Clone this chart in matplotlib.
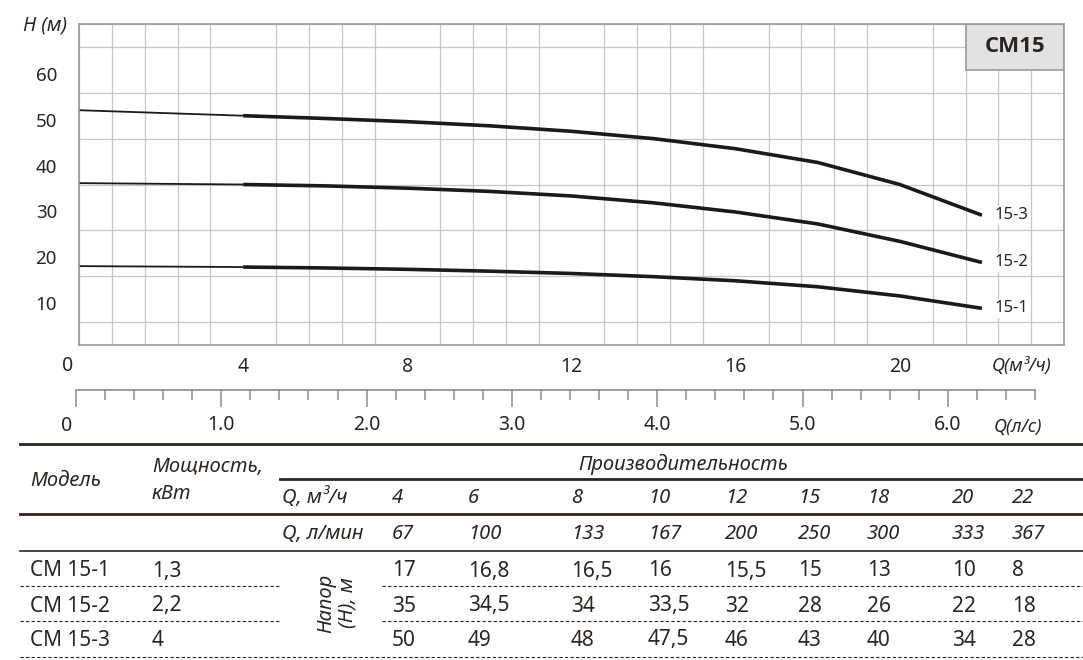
import numpy as np
import matplotlib
matplotlib.use("Agg")
from matplotlib import pyplot as plt
from matplotlib.lines import Line2D
from matplotlib.patches import Rectangle

plt.rcParams['font.family'] = ['Noto Sans', 'DejaVu Sans']

# ---- table data ----
q_m3h = [4, 6, 8, 10, 12, 15, 18, 20, 22]
q_lmin = [67, 100, 133, 167, 200, 250, 300, 333, 367]
models = ['CM 15-1', 'CM 15-2', 'CM 15-3']
curve_names = ['15-1', '15-2', '15-3']
power_kw = ['1,3', '2,2', '4']
head_15_1 = [17, 16.8, 16.5, 16, 15.5, 15, 13, 10, 8]
head_15_2 = [35, 34.5, 34, 33.5, 32, 28, 26, 22, 18]
head_15_3 = [50, 49, 48, 47.5, 46, 43, 40, 34, 28]
heads = [head_15_1, head_15_2, head_15_3]

# ---- curves as drawn on the chart ----
curve_q = [0, 2, 4, 6, 8, 10, 12, 14, 16, 18, 20, 22]
curve_15_1 = [17.2, 17.1, 17.0, 16.8, 16.5, 16.1, 15.6, 14.9, 14.0, 12.7, 10.7, 8.0]
curve_15_2 = [35.3, 35.15, 35.0, 34.7, 34.2, 33.5, 32.5, 31.0, 29.0, 26.4, 22.6, 18.0]
curve_15_3 = [51.2, 50.6, 50.0, 49.4, 48.7, 47.8, 46.6, 45.0, 42.8, 39.8, 35.0, 28.3]
curves = [curve_15_1, curve_15_2, curve_15_3]

x_ticks = [0, 4, 8, 12, 16, 20]
y_ticks = [10, 20, 30, 40, 50, 60]
ls_ticks = [0, 1, 2, 3, 4, 5, 6]

TXT = '#2b2522'
LINE = '#2e241e'
W, H = 1083, 660


def fx(px):
    return px / W


def fy(py):
    return 1 - py / H


def fmt(v):
    return str(v).replace('.', ',')


fig = plt.figure(figsize=(W / 100, H / 100), dpi=100)

# ---- main chart ----
ax = fig.add_axes([fx(79), fy(345), fx(1064) - fx(79), fy(24) - fy(345)])
ax.set_xlim(0, 24)
ax.set_ylim(0, 70)
ax.set_xticks(np.arange(0, 24.01, 0.8), minor=True)
ax.set_yticks(np.arange(0, 70.01, 5), minor=True)
ax.grid(which='minor', color='#c6c6c6', lw=0.9)
ax.set_axisbelow(True)
ax.set_xticks(x_ticks[1:])
ax.set_xticklabels([str(v) for v in x_ticks[1:]], fontsize=14, color=TXT)
ax.set_yticks(y_ticks)
ax.set_yticklabels([])
ax.tick_params(which='both', length=0)
ax.tick_params(axis='x', pad=9)
for s in ax.spines.values():
    s.set_color('#9a9a9a')
    s.set_linewidth(1.2)
ax.annotate(str(x_ticks[0]), (0, 0), xytext=(-11, -21), textcoords='offset pixels',
            ha='center', va='center', fontsize=14, color=TXT, annotation_clip=False)
# y labels sit a little below their grid lines in the original
for v in y_ticks:
    ax.annotate(str(v), (0, v), xytext=(-22, -4), textcoords='offset pixels',
                ha='right', va='center_baseline', fontsize=13.5, color=TXT, annotation_clip=False)

for name, cq, ch in zip(curve_names, [curve_q] * 3, curves):
    cq = np.array(cq)
    ch = np.array(ch)
    ax.plot(cq[cq <= 4], ch[cq <= 4], color='#1a1a1a', lw=1.3, solid_capstyle='butt')
    ax.plot(cq[cq >= 4], ch[cq >= 4], color='#1a1a1a', lw=2.6,
            solid_joinstyle='round', solid_capstyle='butt')
    ax.text(cq[-1] + 0.3, ch[-1], name, fontsize=12, color=TXT, va='center', ha='left',
            bbox=dict(facecolor='white', edgecolor='none', pad=1))

ax.add_patch(Rectangle((21.6, 60), 2.4, 10, facecolor='#e2e2e2', edgecolor='#9a9a9a', lw=1.2))
ax.text(22.8, 65, 'CM15', fontsize=16, fontweight='bold', family=['Open Sans', 'DejaVu Sans'],
        color=TXT, ha='center', va='center')

fig.text(fx(45), fy(26), 'H (м)', fontsize=14, style='italic', color=TXT, ha='center', va='center')
fig.text(fx(1051), fy(366), 'Q(м³/ч)', fontsize=13, style='italic', color=TXT, ha='right', va='center')

# ---- l/s ruler ----
ax2 = fig.add_axes([fx(76), fy(389.5), fx(1035) - fx(76), fy(380) - fy(389.5)])
ax2.patch.set_visible(False)
ax2.set_xlim(0, 6.6)
ax2.set_ylim(0, 1)
for k in ['top', 'left', 'right']:
    ax2.spines[k].set_visible(False)
ax2.spines['bottom'].set_color('#8c8c8c')
ax2.spines['bottom'].set_linewidth(1.2)
ax2.set_yticks([])
ax2.set_xticks(ls_ticks)
ax2.set_xticklabels([''] + ['%.1f' % v for v in ls_ticks[1:]], fontsize=14, color=TXT)
ax2.set_xticks(np.arange(0, 6.61, 0.2), minor=True)
ax2.tick_params(which='major', direction='out', length=12.5, width=1.1, color='#8c8c8c', pad=6)
ax2.tick_params(which='minor', direction='out', length=7.5, width=1.1, color='#8c8c8c')
ax2.annotate('0', (0, 0), xytext=(-9, -36), textcoords='offset pixels',
             ha='center', va='center', fontsize=14, color=TXT, annotation_clip=False)
fig.text(fx(1042), fy(427), 'Q(л/с)', fontsize=13, style='italic', color=TXT, ha='right', va='center')


# ---- table ----
def hline(y, x0, x1, lw, dashed=False):
    ln = Line2D([fx(x0), fx(x1)], [fy(y), fy(y)], transform=fig.transFigure, color=LINE, lw=lw)
    if dashed:
        ln.set_dashes((3, 2))
    fig.add_artist(ln)


hline(444, 20, 1083, 2.0)
hline(479, 280, 1083, 2.0)
hline(514, 20, 1083, 2.0)
hline(551, 20, 1083, 1.2)
for y in (586, 621):
    hline(y, 20, 280, 0.8, dashed=True)
    hline(y, 382, 1083, 0.8, dashed=True)
hline(657, 20, 1083, 0.8, dashed=True)

it = dict(fontsize=14.5, style='italic', color=TXT, va='center', ha='left')
rg = dict(fontsize=15, color=TXT, va='center', ha='left')
fig.text(fx(30), fy(481), 'Модель', **it)
fig.text(fx(152), fy(467), 'Мощность,', **it)
fig.text(fx(152), fy(494), 'кВт', **it)
fig.text(fx(578), fy(464), 'Производительность', **it)
fig.text(fx(282), fy(498), 'Q, м³/ч', **it)
fig.text(fx(282), fy(534), 'Q, л/мин', **it)

col_x = [392, 468, 571, 648, 725, 798, 867, 952, 1012]
for cx, q1, q2 in zip(col_x, q_m3h, q_lmin):
    fig.text(fx(cx), fy(498), str(q1), **it)
    fig.text(fx(cx), fy(534), str(q2), **it)

row_y = [571, 606, 640]
for ry, m, p, h in zip(row_y, models, power_kw, heads):
    fig.text(fx(30), fy(ry), m, **rg)
    fig.text(fx(152), fy(ry), p, **rg)
    for cx, v in zip(col_x, h):
        fig.text(fx(cx), fy(ry), fmt(v), **rg)

fig.text(fx(337), fy(603), 'Напор\n(Н), м', rotation=90, fontsize=14.5, style='italic',
         color=TXT, ha='center', va='center', linespacing=1.05, multialignment='center')

fig.savefig('out.png', dpi=100)
